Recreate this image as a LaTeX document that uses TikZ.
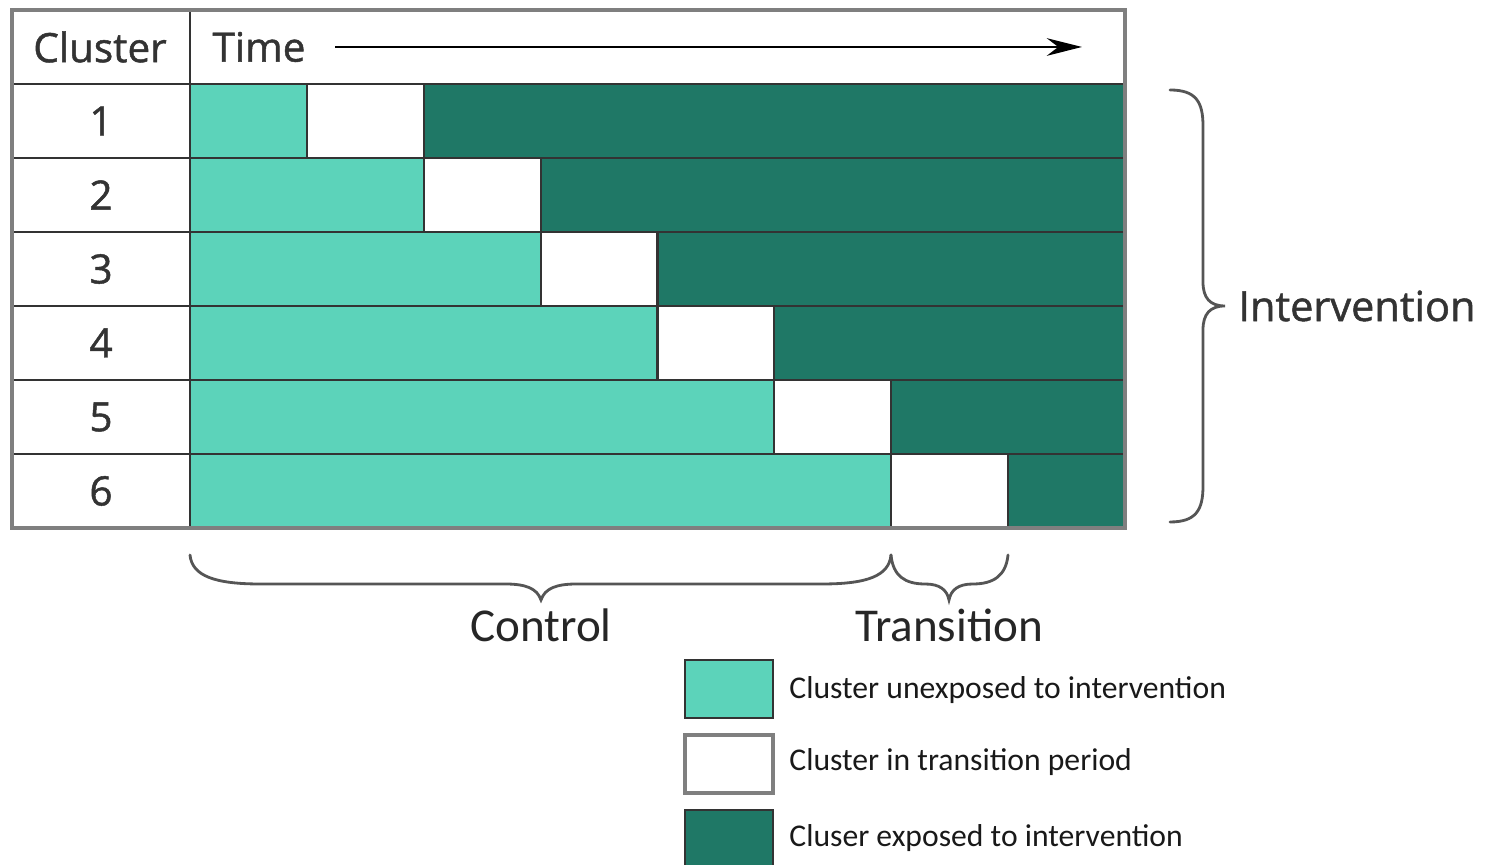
\documentclass[tikz,border=0pt]{standalone}
\usepackage{fontspec}
\setmainfont{Open Sans}[AutoFakeBold=1.2]
\newfontfamily\legendfont{Carlito}
\usetikzlibrary{arrows.meta}

\definecolor{unexposed}{HTML}{5CD3BA}
\definecolor{exposed}{HTML}{1F7866}
\definecolor{gridline}{HTML}{333333}
\definecolor{framegray}{HTML}{7F7F7F}
\definecolor{bracegray}{HTML}{555555}

\tikzset{
	cell/.style={draw=gridline, line width=0.6pt},
	frame/.style={draw=framegray, line width=0.9pt},
	headtext/.style={font=\bfseries\fontsize{11.5}{13}\selectfont, text=black!80},
	bracetext/.style={font=\legendfont\fontsize{13.4}{15}\selectfont, text=black!85},
	legendtext/.style={font=\legendfont\fontsize{9.0}{11}\selectfont, text=black!90, anchor=west},
	curly/.style={draw=bracegray, line width=0.8pt, line cap=round}
}

\begin{document}
\begin{tikzpicture}[x=0.01cm, y=-0.01cm]
	\useasboundingbox (0,0) rectangle (1487,865);

	% header
	\draw[cell] (12,10) rectangle (190,84);
	\draw[cell] (190,10) rectangle (1125,84);
	\node[headtext] (cluster) at (100,47) {Cluster};
	\node[headtext] (time) at (259,47) {Time};
	\coordinate (tstart) at (335,47);
	\coordinate (tend) at (1082,47);
	\draw[line width=0.8pt, -{Stealth[length=10pt, width=5pt]}] (tstart) -- (tend);

	% rows
	\foreach \r in {1,...,6}{
		\pgfmathsetmacro\xa{190+\r*116.875}
		\pgfmathsetmacro\xb{\xa+116.875}
		\pgfmathsetmacro\ya{10+\r*74}
		\pgfmathsetmacro\yb{\ya+74}
		\draw[cell] (12,\ya) rectangle (190,\yb);
		\filldraw[cell, fill=unexposed] (190,\ya) rectangle (\xa,\yb);
		\filldraw[cell, fill=white] (\xa,\ya) rectangle (\xb,\yb);
		\filldraw[cell, fill=exposed] (\xb,\ya) rectangle (1125,\yb);
		\node[headtext] (row\r) at (101,\ya+37) {\r};
	}

	\draw[frame] (12,10) rectangle (1125,528);

	% braces
	\coordinate (itop) at (1170,90);
	\coordinate (itip) at (1225,306);
	\coordinate (ibot) at (1170,522);
	\draw[curly] (itop) .. controls (1196,90) and (1203,102) .. (1203,126)
		-- (1203,282) .. controls (1203,298) and (1210,306) .. (itip)
		.. controls (1210,306) and (1203,314) .. (1203,330)
		-- (1203,486) .. controls (1203,510) and (1196,522) .. (ibot);
	\node[headtext, anchor=west, font=\bfseries\fontsize{11.8}{13}\selectfont] (interv) at (1226,306) {Intervention};

	\coordinate (cleft) at (190,555);
	\coordinate (ctip) at (541,600);
	\coordinate (cright) at (891,555);
	\draw[curly] (cleft) .. controls (192,576) and (215,584) .. (260,584)
		-- (505,584) .. controls (525,584) and (537,588) .. (ctip)
		.. controls (545,588) and (557,584) .. (577,584)
		-- (822,584) .. controls (867,584) and (889,576) .. (cright);
	\node[bracetext] (control) at (541,625) {Control};

	\coordinate (tleft) at (891,555);
	\coordinate (ttip) at (949,600);
	\coordinate (tright) at (1008,555);
	\draw[curly] (tleft) .. controls (893,576) and (905,584) .. (925,584)
		.. controls (940,584) and (947,590) .. (ttip)
		.. controls (951,590) and (958,584) .. (973,584)
		.. controls (993,584) and (1006,576) .. (tright);
	\node[bracetext] (transition) at (949,625) {Transition};

	% legend
	\filldraw[cell, fill=unexposed] (685,660) rectangle (773,718);
	\filldraw[frame, fill=white] (685,735) rectangle (773,793);
	\filldraw[cell, fill=exposed] (685,810) rectangle (773,872);
	\node[legendtext] (lgunexp) at (777,690) {Cluster unexposed to intervention};
	\node[legendtext] (lgtrans) at (777,762) {Cluster in transition period};
	\node[legendtext] (lgexp) at (777,838) {Cluser exposed to intervention};
\end{tikzpicture}
\end{document}
